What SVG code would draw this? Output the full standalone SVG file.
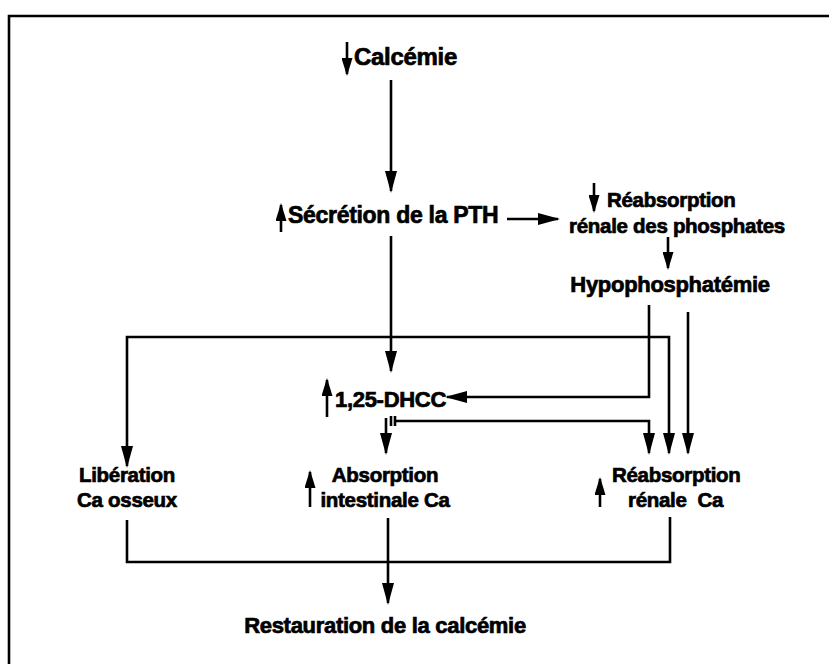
<svg xmlns="http://www.w3.org/2000/svg" width="829" height="664" viewBox="0 0 829 664">
<defs>
<marker id="big" markerUnits="userSpaceOnUse" markerWidth="22" markerHeight="12" refX="20" refY="6" orient="auto"><path d="M0,0 L22,6 L0,12 z" fill="#000"/></marker>
<marker id="small" markerUnits="userSpaceOnUse" markerWidth="18" markerHeight="11" refX="16" refY="5.5" orient="auto"><path d="M0,0 L18,5.5 L0,11 z" fill="#000"/></marker>
</defs>
<style>
text{font-family:"Liberation Sans",Arial,sans-serif;font-weight:bold;font-size:22px;fill:#000;stroke:#000;stroke-width:0.7px;letter-spacing:-0.3px}
.m{text-anchor:middle}
.t2{font-size:20.5px}
.ln{fill:none;stroke:#000;stroke-width:2.6}
.ab{marker-end:url(#big)}
.as{marker-end:url(#small)}
</style>
<rect width="829" height="664" fill="#fff"/>
<path class="ln" d="M9,664 V16 H829" stroke-width="3"/>
<g id="calcemie">
<path class="ln as" d="M347,42 V74"/>
<text x="354" y="65" style="font-size:24px">Calcémie</text>
</g>
<g id="pth">
<path class="ln as" d="M281,232 V205"/>
<text x="288" y="223" style="font-size:23px">Sécrétion de la PTH</text>
</g>
<g id="reabs-phosphates">
<path class="ln as" d="M594,183 V211"/>
<text class="t2" x="607" y="207">Réabsorption</text>
<text class="t2" x="677" y="233" text-anchor="middle">rénale des phosphates</text>
</g>
<g id="hypophosphatemie">
<text class="m" x="670" y="292">Hypophosphatémie</text>
</g>
<g id="dhcc">
<path class="ln as" d="M327,417 V380"/>
<text x="335" y="407">1,25-DHCC</text>
</g>
<g id="liberation">
<text class="m t2" x="127" y="482">Libération</text>
<text class="m t2" x="127" y="507">Ca osseux</text>
</g>
<g id="absorption">
<path class="ln as" d="M310,507 V472"/>
<text class="m t2" x="385" y="482">Absorption</text>
<text class="m t2" x="385" y="507">intestinale Ca</text>
</g>
<g id="reabs-ca">
<path class="ln as" d="M600,507 V479"/>
<text class="t2" x="612" y="482">Réabsorption</text>
<text class="t2" x="628" y="507" xml:space="preserve">rénale  Ca</text>
</g>
<g id="restauration">
<text class="m" x="385" y="633">Restauration de la calcémie</text>
</g>
<g id="connectors">
<path class="ln ab" d="M391,80 V191"/>
<path class="ln ab" d="M391,236 V371"/>
<path class="ln ab" d="M507,219 H558"/>
<path class="ln as" d="M668,237 V268"/>
<path class="ln ab" d="M649,305 V397 H447"/>
<path class="ln ab" d="M688,312 V453"/>
<path class="ln ab" d="M391,337 H127 V466"/>
<path class="ln ab" d="M391,337 H669 V453"/>
<path class="ln ab" d="M386,418 V453"/>
<path class="ln" d="M391,416 V426 M395,416 V426"/>
<path class="ln ab" d="M395,421 H649 V453"/>
<path class="ln" d="M127,520 V562 H670 V517"/>
<path class="ln ab" d="M388,518 V603"/>
</g>
</svg>
